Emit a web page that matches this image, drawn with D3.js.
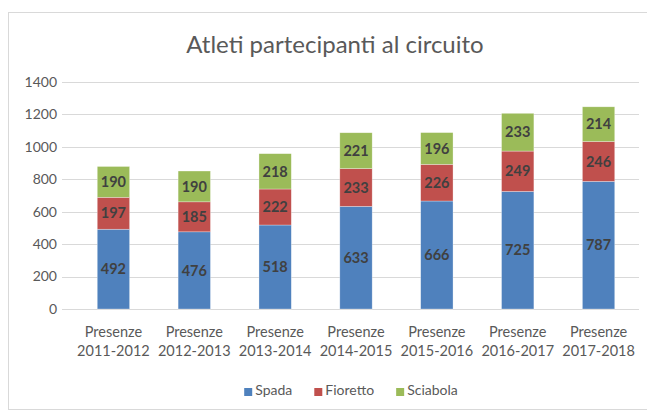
<!DOCTYPE html>
<html>
<head>
<meta charset="utf-8">
<script src="https://cdn.jsdelivr.net/npm/d3@7"></script>
<style>
  body { margin: 0; background: #fff; }
  text { font-family: Lato, "Open Sans", sans-serif; }
</style>
</head>
<body>
<div id="chart"></div>
<script>
// data
const seasons = ["2011-2012", "2012-2013", "2013-2014", "2014-2015", "2015-2016", "2016-2017", "2017-2018"];
const spada = [492, 476, 518, 633, 666, 725, 787];
const fioretto = [197, 185, 222, 233, 226, 249, 246];
const sciabola = [190, 190, 218, 221, 196, 233, 214];
const seriesNames = ["Spada", "Fioretto", "Sciabola"];
const yTicks = [0, 200, 400, 600, 800, 1000, 1200, 1400];

const colors = { Spada: "#4f81bd", Fioretto: "#c0504d", Sciabola: "#9bbb59" };

const width = 647, height = 412;

const rows = seasons.map((s, i) => ({
  season: s, Spada: spada[i], Fioretto: fioretto[i], Sciabola: sciabola[i]
}));

const svg = d3.select("#chart")
  .append("svg")
    .attr("width", width)
    .attr("height", height);

// outer frame
svg.append("rect")
  .attr("x", 8.5).attr("y", 12.5)
  .attr("width", 650).attr("height", 397)
  .style("fill", "none")
  .style("stroke", "#d9d9d9");

// title
svg.append("text")
  .attr("x", 335).attr("y", 53)
  .attr("text-anchor", "middle")
  .style("font-size", "24px")
  .style("fill", "#595959")
  .text("Atleti partecipanti al circuito");

// scales
const x = d3.scaleBand()
  .domain(seasons)
  .range([73, 639])
  .paddingInner(0.6)
  .paddingOuter(0.3);

const y = d3.scaleLinear()
  .domain([0, 1400])
  .range([309, 82]);

// grid
svg.append("g")
  .selectAll("line")
  .data(yTicks).enter()
  .append("line")
    .attr("x1", 62).attr("x2", 639)
    .attr("y1", d => Math.round(y(d)) + 0.5)
    .attr("y2", d => Math.round(y(d)) + 0.5)
    .style("stroke", "#d9d9d9")
    .style("stroke-width", 1);

// y labels
svg.append("g")
  .selectAll("text")
  .data(yTicks).enter()
  .append("text")
    .attr("x", 57)
    .attr("y", d => y(d))
    .attr("dy", "0.35em")
    .attr("text-anchor", "end")
    .style("font-size", "14px")
    .style("fill", "#595959")
    .text(d => d);

// stacked bars
const stack = d3.stack().keys(seriesNames)(rows);

const layers = svg.append("g")
  .selectAll("g")
  .data(stack).enter()
  .append("g")
    .style("fill", d => colors[d.key]);

layers.selectAll("rect")
  .data(d => d).enter()
  .append("rect")
    .attr("x", d => x(d.data.season))
    .attr("width", x.bandwidth())
    .attr("y", d => y(d[1]))
    .attr("height", d => y(d[0]) - y(d[1]))
    .style("stroke", "#ffffff")
    .style("stroke-opacity", 0.5)
    .style("stroke-width", 0.6);

layers.selectAll("text")
  .data(d => d).enter()
  .append("text")
    .attr("x", d => x(d.data.season) + x.bandwidth() / 2)
    .attr("y", d => (y(d[0]) + y(d[1])) / 2)
    .attr("dy", "0.36em")
    .attr("text-anchor", "middle")
    .style("font-size", "14.5px")
    .style("font-weight", "bold")
    .style("fill", "#404040")
    .text(d => d[1] - d[0]);

// category labels
const cats = svg.append("g")
  .selectAll("text")
  .data(seasons).enter()
  .append("text")
    .attr("text-anchor", "middle")
    .attr("x", d => x(d) + x.bandwidth() / 2)
    .style("font-size", "14.5px")
    .style("fill", "#595959");

cats.append("tspan")
  .attr("x", d => x(d) + x.bandwidth() / 2)
  .attr("y", 337)
  .text("Presenze");

cats.append("tspan")
  .attr("x", d => x(d) + x.bandwidth() / 2)
  .attr("y", 356)
  .text(d => d);

// legend
const legend = svg.append("g");
const items = legend.selectAll("g")
  .data(seriesNames).enter()
  .append("g");

items.append("rect")
  .attr("width", 8).attr("height", 8)
  .attr("y", -7)
  .style("fill", d => colors[d]);

items.append("text")
  .attr("x", 11)
  .attr("y", 0)
  .style("font-size", "14px")
  .style("fill", "#595959")
  .text(d => d);

let pos = 0;
const offsets = [];
items.each(function() {
  offsets.push(pos);
  pos += this.getBBox().width + 22;
});
const totalW = pos - 22;
items.attr("transform", (d, i) => `translate(${351 - totalW / 2 + offsets[i]}, 395)`);
</script>
</body>
</html>
